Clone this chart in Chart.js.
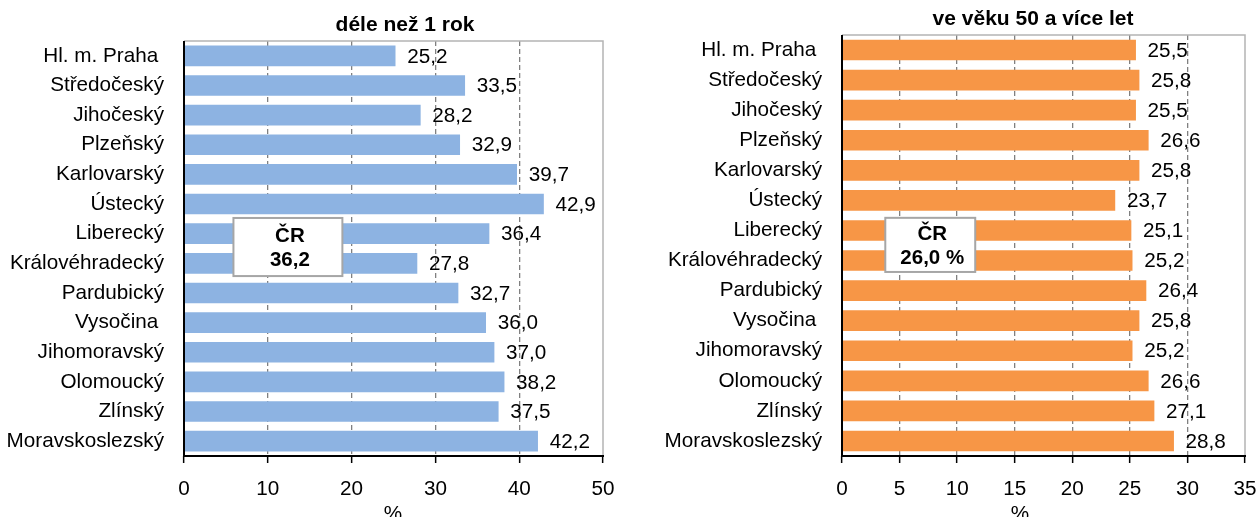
<!DOCTYPE html>
<html><head><meta charset="utf-8">
<script src="https://cdn.jsdelivr.net/npm/chart.js@4/dist/chart.umd.min.js"></script>
<style>
html,body{margin:0;padding:0;background:#fff;overflow:hidden}
#wrap{position:relative;width:1256px;height:517px;overflow:hidden}
canvas{position:absolute;top:0}
</style></head><body>
<div id="wrap">
<canvas id="c1" width="630" height="517" style="left:0"></canvas>
<canvas id="c2" width="650" height="517" style="left:630px"></canvas>
</div>
<script>
const regions = ["Hl. m. Praha ", "Středočeský", "Jihočeský", "Plzeňský", "Karlovarský", "Ústecký", "Liberecký", "Královéhradecký", "Pardubický", "Vysočina ", "Jihomoravský", "Olomoucký", "Zlínský", "Moravskoslezský"];
const longTerm = [25.2, 33.5, 28.2, 32.9, 39.7, 42.9, 36.4, 27.8, 32.7, 36.0, 37.0, 38.2, 37.5, 42.2];
const age50 = [25.5, 25.8, 25.5, 26.6, 25.8, 23.7, 25.1, 25.2, 26.4, 25.8, 25.2, 26.6, 27.1, 28.8];
const titles = ["déle než 1 rok", "ve věku 50 a více let"];
const crLabel = "ČR";
const crValues = ["36,2", "26,0 %"];
const axisTitle = "%";
const leftAxis = {min: 0, max: 50, step: 10};
const rightAxis = {min: 0, max: 35, step: 5};

const FONT = '"Liberation Sans", Arial, sans-serif';
const FS = 20.7;
const fmt = v => v.toFixed(1).replace('.', ',');

function makeChart(id, values, color, axis, cfg) {
  const decor = {
    id: 'decor' + id,
    afterDraw(chart) {
      const {ctx, chartArea: a, scales} = chart;
      ctx.save();
      ctx.setLineDash([]);
      ctx.lineWidth = 1.5; ctx.strokeStyle = '#b4b4b4';
      ctx.beginPath(); ctx.moveTo(a.left, a.top); ctx.lineTo(a.right, a.top); ctx.lineTo(a.right, a.bottom); ctx.stroke();
      ctx.strokeStyle = '#000'; ctx.lineWidth = 2;
      ctx.beginPath(); ctx.moveTo(a.left, a.top); ctx.lineTo(a.left, a.bottom); ctx.lineTo(a.right + 1, a.bottom); ctx.stroke();
      const meta = chart.getDatasetMeta(0);
      ctx.font = FS + 'px ' + FONT; ctx.fillStyle = '#000';
      ctx.textAlign = 'left'; ctx.textBaseline = 'middle';
      meta.data.forEach((bar, i) => ctx.fillText(fmt(values[i]), bar.x + 12, bar.y + 1));
      ctx.font = 'bold 21px ' + FONT; ctx.textAlign = 'center';
      ctx.fillText(cfg.title, cfg.titleX, cfg.titleY);
      ctx.font = FS + 'px ' + FONT;
      ctx.fillText(axisTitle, cfg.pctX, 514);
      const x1 = scales.x.getPixelForValue(cfg.box[0]), x2 = scales.x.getPixelForValue(cfg.box[1]);
      const y1 = scales.y.getPixelForValue(cfg.box[2]), y2 = scales.y.getPixelForValue(cfg.box[3]);
      ctx.fillStyle = '#fff'; ctx.fillRect(x1, y1, x2 - x1, y2 - y1);
      ctx.strokeStyle = '#a6a6a6'; ctx.lineWidth = 2; ctx.strokeRect(x1, y1, x2 - x1, y2 - y1);
      ctx.fillStyle = '#000'; ctx.font = 'bold 20.5px ' + FONT;
      const cx = (x1 + x2) / 2 + 2, cy = (y1 + y2) / 2;
      ctx.fillText(crLabel, cx, cy - 11);
      ctx.fillText(cfg.cr, cx, cy + 13);
      ctx.restore();
    }
  };
  return new Chart(document.getElementById(id), {
    type: 'bar',
    data: {labels: regions, datasets: [{data: values, backgroundColor: color, barThickness: 20, borderWidth: 0}]},
    options: {
      indexAxis: 'y', responsive: false, animation: false, devicePixelRatio: 1,
      layout: {padding: {left: 0, right: cfg.padRight, top: cfg.top, bottom: 0}},
      plugins: {legend: {display: false}, tooltip: {enabled: false}, title: {display: false}},
      scales: {
        x: {
          min: axis.min, max: axis.max,
          ticks: {stepSize: axis.step, color: '#000', font: {family: FONT, size: FS}, padding: 14},
          grid: {
            color: c => (c.tick && (c.tick.value === axis.min || c.tick.value === axis.max)) ? 'rgba(0,0,0,0)' : '#808080',
            lineWidth: 1.3, tickColor: '#000', tickLength: 7, tickWidth: 1.5, tickBorderDash: [], drawOnChartArea: true
          },
          border: {display: false, dash: [5, 3]},
          afterFit: s => { s.height = 517 - cfg.bottom; }
        },
        y: {
          ticks: {color: '#000', font: {family: FONT, size: FS}, padding: 20, autoSkip: false},
          grid: {display: false, drawTicks: false, tickLength: 0},
          border: {display: false},
          afterFit: s => { s.width = cfg.left; }
        }
      }
    },
    plugins: [decor]
  });
}

makeChart('c1', longTerm, '#8DB3E2', leftAxis, {
  left: 184, padRight: 27, top: 41, bottom: 456, title: titles[0], titleX: 405, titleY: 25,
  pctX: 393, cr: crValues[0], box: [5.9, 18.9, 5.47, 7.43]
});
makeChart('c2', age50, '#F79646', rightAxis, {
  left: 212, padRight: 35, top: 35, bottom: 456, title: titles[1], titleX: 403, titleY: 19,
  pctX: 390, cr: crValues[1], box: [3.76, 11.57, 5.58, 7.38]
});
</script>
</body></html>
